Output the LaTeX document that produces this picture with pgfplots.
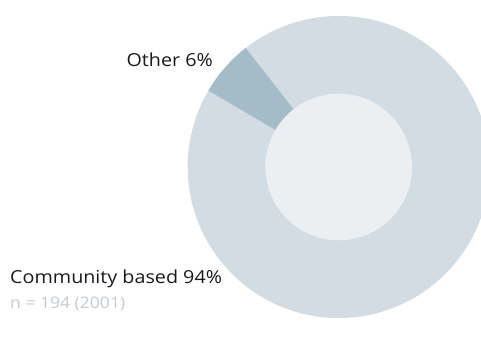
\documentclass[border=0pt]{standalone}
\usepackage{pgfplots}
\pgfplotsset{compat=1.18}
\usepackage{fontspec}
\setmainfont[FakeStretch=1.1]{Open Sans}
\definecolor{ringc}{HTML}{D3DCE2}
\definecolor{otherc}{HTML}{A3BCC8}
\definecolor{holec}{HTML}{EBEFF2}
\definecolor{txtc}{HTML}{1A1A1A}
\definecolor{notec}{HTML}{C3CBD1}
\begin{document}
\begin{tikzpicture}
% data: Community based 94, Other 6
\pgfmathsetmacro{\valCommunity}{94}
\pgfmathsetmacro{\valOther}{6}
\pgfmathsetmacro{\cx}{338.7}
\pgfmathsetmacro{\cy}{185}
\pgfmathsetmacro{\ro}{151}
\pgfmathsetmacro{\ri}{73.3}
\pgfmathsetmacro{\aStart}{128}
\pgfmathsetmacro{\aEnd}{\aStart+360*\valOther/(\valCommunity+\valOther)}
\begin{axis}[
  scale only axis, width=481bp, height=352bp,
  xmin=0, xmax=481, ymin=0, ymax=352,
  hide axis, clip=true,
]
\fill[ringc] (axis cs:\cx,\cy) circle[radius=\ro];
\fill[otherc] (axis cs:\cx,\cy) -- (axis cs:{\cx+\ro*cos(\aStart)},{\cy+\ro*sin(\aStart)})
   arc[start angle=\aStart, end angle=\aEnd, radius=\ro] -- cycle;
\fill[holec] (axis cs:\cx,\cy) circle[radius=\ri];
\node[anchor=base east, font=\fontsize{18}{20}\selectfont, text=txtc, inner sep=0pt] at (axis cs:213,352-67) {Other 6\%};
\node[anchor=base west, font=\fontsize{18}{20}\selectfont, text=txtc, inner sep=0pt] at (axis cs:10,352-284) {Community based 94\%};
\node[anchor=base west, font=\fontsize{16}{18}\selectfont, text=notec, inner sep=0pt] at (axis cs:10,352-309) {n = 194 (2001)};
\end{axis}
\pgfresetboundingbox
\path[use as bounding box] (current axis.south west) rectangle (current axis.north east);
\end{tikzpicture}
\end{document}
